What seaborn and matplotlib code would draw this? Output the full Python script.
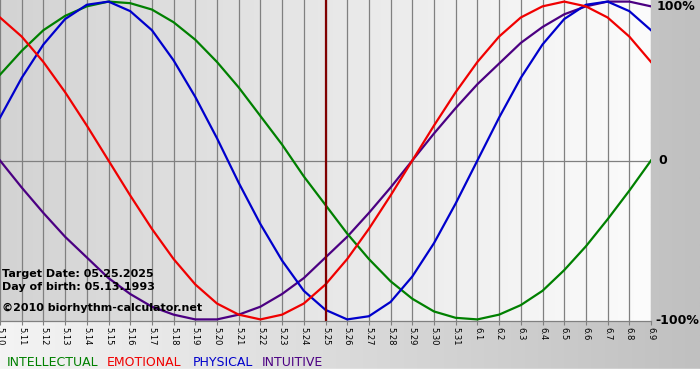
import numpy as np
import pandas as pd
import matplotlib
matplotlib.use("Agg")
import matplotlib.pyplot as plt
import seaborn as sns
from matplotlib.colors import LinearSegmentedColormap

# Day labels along the bottom (05.10 -> 06.09)
day_labels = ["5.10", "5.11", "5.12", "5.13", "5.14", "5.15", "5.16", "5.17", "5.18", "5.19",
              "5.20", "5.21", "5.22", "5.23", "5.24", "5.25", "5.26", "5.27", "5.28", "5.29",
              "5.30", "5.31", "6.1", "6.2", "6.3", "6.4", "6.5", "6.6", "6.7", "6.8", "6.9"]
target_label = "5.25"

# Cycle values per day (-1 .. 1)
physical = [0.27, 0.52, 0.73, 0.89, 0.98, 1.00, 0.94, 0.82, 0.63, 0.40, 0.14,
            -0.14, -0.40, -0.63, -0.82, -0.94, -1.00, -0.98, -0.89, -0.73, -0.52,
            -0.27, 0.00, 0.27, 0.52, 0.73, 0.89, 0.98, 1.00, 0.94, 0.82]
emotional = [0.90, 0.78, 0.62, 0.43, 0.22, 0.00, -0.22, -0.43, -0.62, -0.78, -0.90,
             -0.97, -1.00, -0.97, -0.90, -0.78, -0.62, -0.43, -0.22, 0.00, 0.22,
             0.43, 0.62, 0.78, 0.90, 0.97, 1.00, 0.97, 0.90, 0.78, 0.62]
intellectual = [0.54, 0.69, 0.82, 0.91, 0.97, 1.00, 0.99, 0.95, 0.87, 0.76, 0.62,
                0.46, 0.28, 0.10, -0.10, -0.28, -0.46, -0.62, -0.76, -0.87, -0.95,
                -0.99, -1.00, -0.97, -0.91, -0.82, -0.69, -0.54, -0.37, -0.19, 0.00]
intuitive = [0.00, -0.17, -0.33, -0.48, -0.61, -0.74, -0.84, -0.92, -0.97, -1.00, -1.00,
             -0.97, -0.92, -0.84, -0.74, -0.61, -0.48, -0.33, -0.17, 0.00, 0.17,
             0.33, 0.48, 0.61, 0.74, 0.84, 0.92, 0.97, 1.00, 1.00, 0.97]

series_names = ["INTELLECTUAL", "EMOTIONAL", "PHYSICAL", "INTUITIVE"]
series_colors = {"INTELLECTUAL": "#008000", "EMOTIONAL": "#f00000",
                 "PHYSICAL": "#0000cc", "INTUITIVE": "#4b0082"}

info_lines = ["Target Date: 05.25.2025", "Day of birth: 05.13.1993", "\u00a92010 biorhythm-calculator.net"]
right_labels = ["100%", "0", "-100%"]

days = np.arange(len(day_labels))
df = pd.DataFrame({
    "day": np.tile(days, 4),
    "value": intellectual + emotional + physical + intuitive,
    "cycle": np.repeat(series_names, len(days)),
})

W, H = 700, 380
fig = plt.figure(figsize=(W / 100, H / 100), dpi=100)

# figure background: light on the left, grey on the right, white strip at the bottom
bg = fig.add_axes([0, 0, 1, 1], zorder=-10)
bg_cmap = LinearSegmentedColormap.from_list("bg", ["#f4f4f4", "#c0c0c0"])
bg.imshow(np.linspace(0, 1, 256).reshape(1, -1), cmap=bg_cmap, aspect="auto",
          extent=[0, 1, 0, 1])
bg.axhspan(0, 11 / H, color="white")
bg.set_xlim(0, 1)
bg.set_ylim(0, 1)
bg.axis("off")

ax = fig.add_axes([0, 1 - 321 / H, 651 / W, 321 / H])
ax.set_xlim(0, len(days) - 1)
ax.set_ylim(-1.01, 1.01)

# plot area gradient
pa_cmap = LinearSegmentedColormap.from_list("pa", ["#d3d3d3", "#fcfcfc"])
ax.imshow(np.linspace(0, 1, 256).reshape(1, -1), cmap=pa_cmap, aspect="auto",
          extent=[0, len(days) - 1, -1.01, 1.01], zorder=0)

for d in days:
    ax.axvline(d, color="#808080", linewidth=0.9, zorder=1)
ax.axhline(0, color="#808080", linewidth=0.9, zorder=1)

for name in ["INTUITIVE", "INTELLECTUAL", "PHYSICAL", "EMOTIONAL"]:
    sns.lineplot(data=df[df["cycle"] == name], x="day", y="value", color=series_colors[name],
                 linewidth=1.6, ax=ax, legend=False, zorder=3)

ax.axvline(day_labels.index(target_label), color="#800000", linewidth=1.6, zorder=4)

ax.set_xticks(days)
ax.set_xticklabels(day_labels, rotation=270, fontsize=6)
ax.tick_params(axis="x", length=3, width=0.8, color="#808080", pad=1)
ax.set_yticks([])
ax.set_xlabel("")
ax.set_ylabel("")
for side in ["top", "left", "right"]:
    ax.spines[side].set_visible(False)
ax.spines["bottom"].set_color("#808080")
ax.spines["bottom"].set_linewidth(0.9)

# info text in the lower left
for txt, base in zip(info_lines, [277, 290, 311]):
    fig.text(2 / W, 1 - base / H, txt, fontsize=8, fontweight="bold", va="baseline", ha="left")

# right side percentage labels
for txt, yc, xl in zip(right_labels, [7, 161, 321], [657, 658, 655]):
    fig.text(xl / W, 1 - yc / H, txt, fontsize=9, fontweight="bold", va="center", ha="left")

# legend line at the bottom
for name, xl in zip(series_names, [7, 107, 193, 262]):
    fig.text(xl / W, 1 - 366 / H, name, fontsize=9, color=series_colors[name],
             va="baseline", ha="left")

fig.savefig("out.png", dpi=100)
